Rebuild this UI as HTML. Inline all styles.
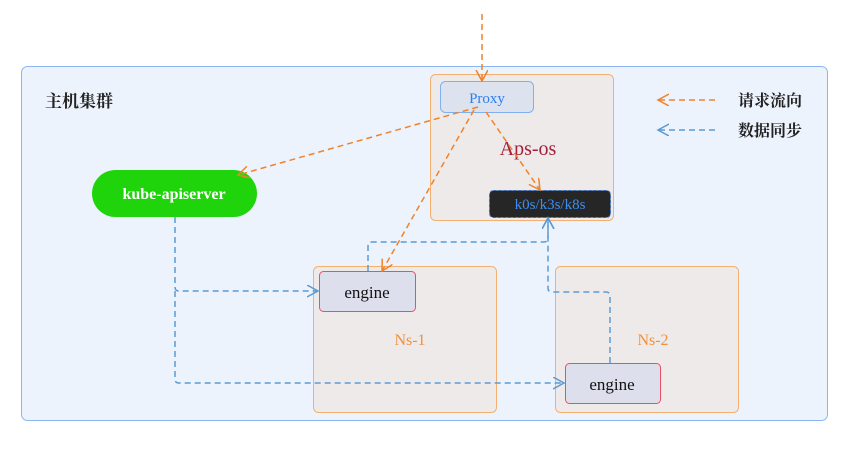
<!DOCTYPE html><html><head><meta charset="utf-8"><style>
body{margin:0;width:865px;height:448px;background:#fff;overflow:hidden}
svg text{font-family:"Liberation Serif","Noto Serif CJK SC",serif}
</style></head><body>
<svg width="865" height="448" viewBox="0 0 865 448">
<defs>
<marker id="o" markerWidth="14" markerHeight="14" refX="11" refY="6" orient="auto" markerUnits="userSpaceOnUse"><path d="M0,0 L11,6 L0,12" fill="none" stroke="#f0832a" stroke-width="1.5"/></marker>
<marker id="b" markerWidth="14" markerHeight="14" refX="11" refY="6" orient="auto" markerUnits="userSpaceOnUse"><path d="M0,0 L11,6 L0,12" fill="none" stroke="#5b9bd5" stroke-width="1.5"/></marker>
</defs>
<rect x="21.5" y="66.5" width="806" height="354" rx="6" fill="#edf3fd" stroke="#8db6f0"/>
<text x="45" y="107" font-size="17" font-weight="bold" fill="#222" font-family="Noto Serif CJK SC,serif">主机集群</text>
<rect x="430.5" y="74.5" width="183" height="146" rx="5" fill="#eeeaea" stroke="#f5b070"/>
<rect x="440.5" y="81.5" width="93" height="31" rx="5" fill="#dde2ef" stroke="#7fb0f0"/>
<text x="487" y="103" font-size="15" fill="#2b7ff0" text-anchor="middle">Proxy</text>
<text x="528" y="155" font-size="20" fill="#a3203a" text-anchor="middle">Aps-os</text>
<rect x="489.5" y="190.5" width="121" height="27" rx="4" fill="#262626" stroke="#3a6fc0" stroke-dasharray="3,2"/>
<text x="550" y="209" font-size="15" fill="#3d8ef0" text-anchor="middle">k0s/k3s/k8s</text>
<rect x="92" y="170" width="165" height="47" rx="23.5" fill="#1fd40a"/>
<text x="174" y="199" font-size="16" font-weight="bold" fill="#fff" text-anchor="middle">kube-apiserver</text>
<rect x="313.5" y="266.5" width="183" height="146" rx="5" fill="#eeeaea" stroke="#f5b070"/>
<rect x="319.5" y="271.5" width="96" height="40" rx="4" fill="#dde0ec" stroke="#e8506a"/>
<text x="367" y="298" font-size="17" fill="#111" text-anchor="middle">engine</text>
<text x="410" y="345" font-size="16" fill="#f0903a" text-anchor="middle">Ns-1</text>
<rect x="555.5" y="266.5" width="183" height="146" rx="5" fill="#eeeaea" stroke="#f5b070"/>
<rect x="565.5" y="363.5" width="95" height="40" rx="4" fill="#dde0ec" stroke="#e8506a"/>
<text x="612" y="390" font-size="17" fill="#111" text-anchor="middle">engine</text>
<text x="653" y="345" font-size="16" fill="#f0903a" text-anchor="middle">Ns-2</text>
<g fill="none" stroke="#f0832a" stroke-width="1.5" stroke-dasharray="6,4">
<path d="M482,14 L482,81" marker-end="url(#o)"/>
<path d="M478,107 L238,175" marker-end="url(#o)"/>
<path d="M474,110 L382,271" marker-end="url(#o)"/>
<path d="M486,112 L540,190" marker-end="url(#o)"/>
<path d="M715,100 L658,100" marker-end="url(#o)"/>
</g>
<g fill="none" stroke="#5b9bd5" stroke-width="1.5" stroke-dasharray="6,4">
<path d="M175,217 L175,287 Q175,291 179,291 L318,291" marker-end="url(#b)"/>
<path d="M175,291 L175,379 Q175,383 179,383 L564,383" marker-end="url(#b)"/>
<path d="M368,271 L368,246 Q368,242 372,242 L544,242 Q548,242 548,238 L548,218" marker-end="url(#b)"/>
<path d="M610,363 L610,296 Q610,292 606,292 L552,292 Q548,292 548,288 L548,218" marker-end="url(#b)"/>
<path d="M715,130 L658,130" marker-end="url(#b)"/>
</g>
<text x="738" y="106" font-size="16" font-weight="bold" fill="#222" font-family="Noto Sans CJK SC,sans-serif">请求流向</text>
<text x="738" y="136" font-size="16" font-weight="bold" fill="#222" font-family="Noto Sans CJK SC,sans-serif">数据同步</text>
</svg>
</body></html>
